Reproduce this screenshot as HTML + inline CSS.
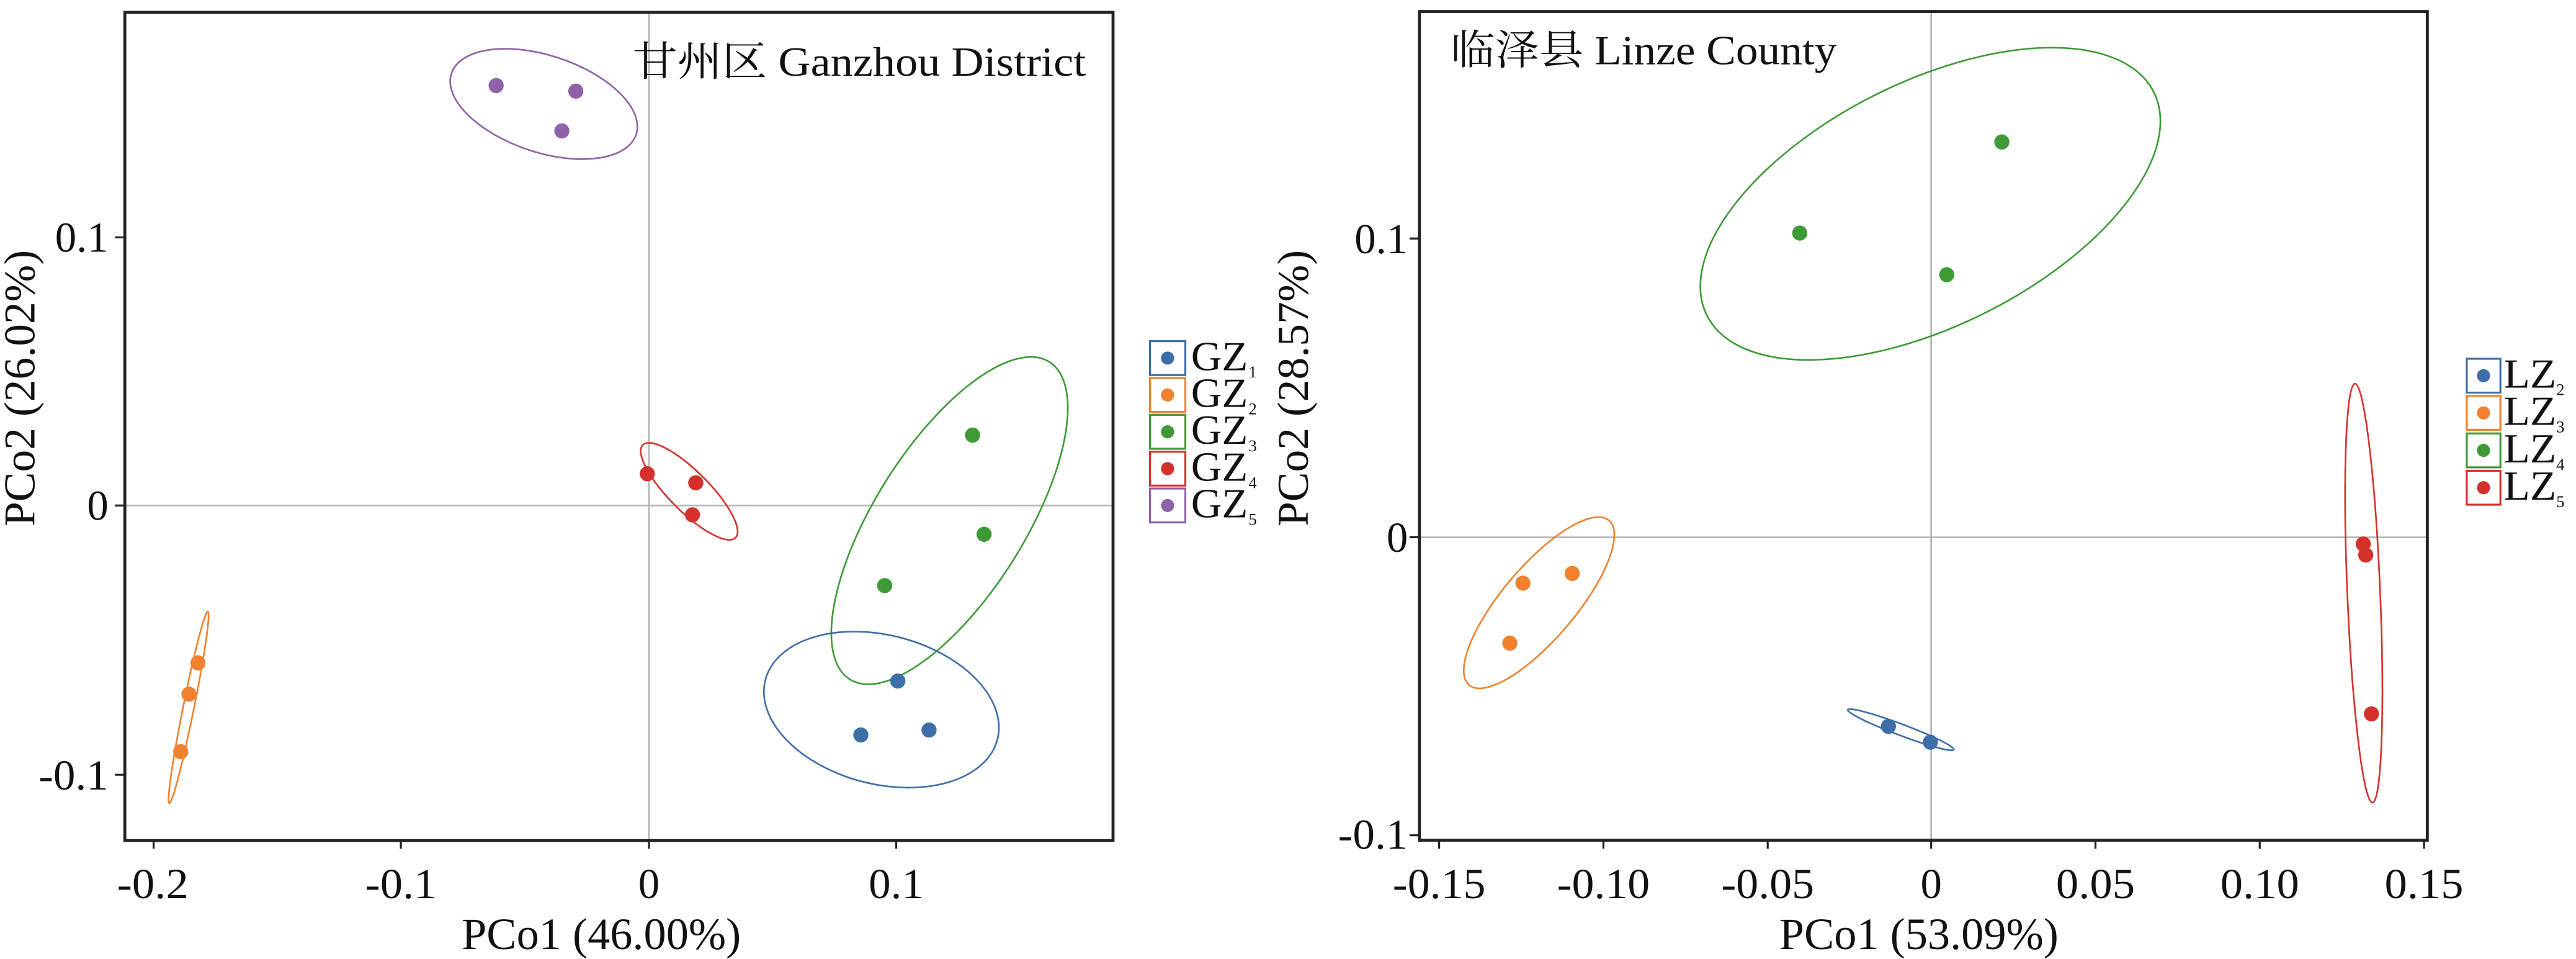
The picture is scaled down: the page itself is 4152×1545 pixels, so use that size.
<!DOCTYPE html>
<html><head><meta charset="utf-8"><style>
html,body{margin:0;padding:0;background:#fff}
svg{display:block}
text{font-family:"Liberation Serif","Noto Serif CJK SC",serif;fill:#111}
</style></head><body>
<svg width="4152" height="1545" viewBox="0 0 1568 583" preserveAspectRatio="none" xmlns="http://www.w3.org/2000/svg">
<!-- LEFT PANEL -->
<g>
<line x1="395" y1="8" x2="395" y2="511" stroke="#b5b5b5" stroke-width="1"/>
<line x1="76" y1="307.3" x2="677" y2="307.3" stroke="#b5b5b5" stroke-width="1"/>
<g fill="none" stroke-width="1">
<ellipse cx="331" cy="63.2" rx="59.2" ry="29.4" transform="rotate(18.3 331 63.2)" stroke="#8e62a8"/>
<ellipse cx="419.5" cy="298.7" rx="39.9" ry="12.1" transform="rotate(45 419.5 298.7)" stroke="#d5312c"/>
<ellipse cx="578" cy="316.5" rx="114" ry="45.6" transform="rotate(-57.8 578 316.5)" stroke="#3e9a37"/>
<ellipse cx="536.5" cy="431.4" rx="72.9" ry="45.3" transform="rotate(14.3 536.5 431.4)" stroke="#3d6ea8"/>
<ellipse cx="114.8" cy="430" rx="59.4" ry="3.3" transform="rotate(-78.6 114.8 430)" stroke="#f0812e"/>
</g>
<g>
<circle cx="302" cy="52" r="4.6" fill="#8e62a8"/><circle cx="350.5" cy="55.4" r="4.6" fill="#8e62a8"/><circle cx="342" cy="79.6" r="4.6" fill="#8e62a8"/>
<circle cx="394" cy="288" r="4.6" fill="#d5312c"/><circle cx="423.5" cy="293.5" r="4.6" fill="#d5312c"/><circle cx="421.5" cy="313" r="4.6" fill="#d5312c"/>
<circle cx="592" cy="264.5" r="4.6" fill="#3e9a37"/><circle cx="599" cy="324.8" r="4.6" fill="#3e9a37"/><circle cx="538.5" cy="356" r="4.6" fill="#3e9a37"/>
<circle cx="546.5" cy="414" r="4.6" fill="#3d6ea8"/><circle cx="524" cy="446.8" r="4.6" fill="#3d6ea8"/><circle cx="565.5" cy="443.8" r="4.6" fill="#3d6ea8"/>
<circle cx="120.5" cy="403" r="4.6" fill="#f0812e"/><circle cx="115" cy="422" r="4.6" fill="#f0812e"/><circle cx="110" cy="457" r="4.6" fill="#f0812e"/>
</g>
<rect x="76" y="7.5" width="601.5" height="503.5" fill="none" stroke="#222" stroke-width="1.8"/>
<g stroke="#222" stroke-width="1.2">
<line x1="93.5" y1="511" x2="93.5" y2="516"/><line x1="244" y1="511" x2="244" y2="516"/><line x1="395" y1="511" x2="395" y2="516"/><line x1="545.5" y1="511" x2="545.5" y2="516"/>
<line x1="70" y1="144.3" x2="76" y2="144.3"/><line x1="70" y1="307.3" x2="76" y2="307.3"/><line x1="70" y1="471" x2="76" y2="471"/>
</g>
<g font-size="26" text-anchor="middle" lengthAdjust="spacingAndGlyphs">
<text x="93" y="546" textLength="43.5" lengthAdjust="spacingAndGlyphs">-0.2</text><text x="244" y="546" textLength="43.5" lengthAdjust="spacingAndGlyphs">-0.1</text><text x="395" y="546">0</text><text x="545.5" y="546" textLength="33.5" lengthAdjust="spacingAndGlyphs">0.1</text>
</g>
<g font-size="26" text-anchor="end">
<text x="66" y="153" textLength="32.5" lengthAdjust="spacingAndGlyphs">0.1</text><text x="66" y="316">0</text><text x="66" y="480" textLength="42.5" lengthAdjust="spacingAndGlyphs">-0.1</text>
</g>
<text x="366" y="577" font-size="27" text-anchor="middle" textLength="170" lengthAdjust="spacingAndGlyphs">PCo1 (46.00%)</text>
<text transform="translate(21 236) rotate(-90)" font-size="27" text-anchor="middle" textLength="168" lengthAdjust="spacingAndGlyphs">PCo2 (26.02%)</text>
<text x="385" y="46" font-size="25" textLength="276" lengthAdjust="spacingAndGlyphs">甘州区 Ganzhou District</text>
<g>
<rect x="700" y="207.4" width="21.5" height="20.6" fill="#fff" stroke="#3d6ea8" stroke-width="1.2"/><circle cx="710.7" cy="217.7" r="4" fill="#3d6ea8"/>
<rect x="700" y="229.8" width="21.5" height="20.6" fill="#fff" stroke="#f0812e" stroke-width="1.2"/><circle cx="710.7" cy="240.1" r="4" fill="#f0812e"/>
<rect x="700" y="252.2" width="21.5" height="20.6" fill="#fff" stroke="#3e9a37" stroke-width="1.2"/><circle cx="710.7" cy="262.5" r="4" fill="#3e9a37"/>
<rect x="700" y="274.6" width="21.5" height="20.6" fill="#fff" stroke="#d5312c" stroke-width="1.2"/><circle cx="710.7" cy="284.9" r="4" fill="#d5312c"/>
<rect x="700" y="297" width="21.5" height="20.6" fill="#fff" stroke="#8e62a8" stroke-width="1.2"/><circle cx="710.7" cy="307.3" r="4" fill="#8e62a8"/>
</g>
<g font-size="25">
<text x="725" y="225" textLength="34.6" lengthAdjust="spacingAndGlyphs">GZ</text><text x="760" y="229.5" font-size="10">1</text>
<text x="725" y="247.4" textLength="34.6" lengthAdjust="spacingAndGlyphs">GZ</text><text x="760" y="251.9" font-size="10">2</text>
<text x="725" y="269.8" textLength="34.6" lengthAdjust="spacingAndGlyphs">GZ</text><text x="760" y="274.3" font-size="10">3</text>
<text x="725" y="292.2" textLength="34.6" lengthAdjust="spacingAndGlyphs">GZ</text><text x="760" y="296.7" font-size="10">4</text>
<text x="725" y="314.6" textLength="34.6" lengthAdjust="spacingAndGlyphs">GZ</text><text x="760" y="319.1" font-size="10">5</text>
</g>
</g>
<!-- RIGHT PANEL -->
<g>
<line x1="1175.5" y1="7" x2="1175.5" y2="511" stroke="#b5b5b5" stroke-width="1"/>
<line x1="864" y1="326.6" x2="1477" y2="326.6" stroke="#b5b5b5" stroke-width="1"/>
<g fill="none" stroke-width="1">
<ellipse cx="1175" cy="123.9" rx="152" ry="74.2" transform="rotate(-26.5 1175 123.9)" stroke="#3e9a37"/>
<ellipse cx="936.8" cy="366.4" rx="65.7" ry="22.2" transform="rotate(-49.6 936.8 366.4)" stroke="#f0812e"/>
<ellipse cx="1157" cy="443.6" rx="34.5" ry="3.4" transform="rotate(20.6 1157 443.6)" stroke="#3d6ea8"/>
<ellipse cx="1438.8" cy="360.6" rx="127.5" ry="10" transform="rotate(87.6 1438.8 360.6)" stroke="#d5312c"/>
</g>
<g>
<circle cx="1218.5" cy="86.3" r="4.6" fill="#3e9a37"/><circle cx="1095.5" cy="141.7" r="4.6" fill="#3e9a37"/><circle cx="1185" cy="167" r="4.6" fill="#3e9a37"/>
<circle cx="927" cy="354.5" r="4.6" fill="#f0812e"/><circle cx="957" cy="348.6" r="4.6" fill="#f0812e"/><circle cx="919" cy="391" r="4.6" fill="#f0812e"/>
<circle cx="1149.5" cy="441.6" r="4.6" fill="#3d6ea8"/><circle cx="1175" cy="451.2" r="4.6" fill="#3d6ea8"/>
<circle cx="1438.5" cy="330.7" r="4.6" fill="#d5312c"/><circle cx="1440" cy="337.4" r="4.6" fill="#d5312c"/><circle cx="1443.5" cy="434" r="4.6" fill="#d5312c"/>
</g>
<rect x="864" y="7" width="613.5" height="503.8" fill="none" stroke="#222" stroke-width="1.8"/>
<g stroke="#222" stroke-width="1.2">
<line x1="876" y1="511" x2="876" y2="516"/><line x1="976" y1="511" x2="976" y2="516"/><line x1="1076" y1="511" x2="1076" y2="516"/><line x1="1175.5" y1="511" x2="1175.5" y2="516"/><line x1="1275.5" y1="511" x2="1275.5" y2="516"/><line x1="1375.5" y1="511" x2="1375.5" y2="516"/><line x1="1475.5" y1="511" x2="1475.5" y2="516"/>
<line x1="858" y1="145" x2="864" y2="145"/><line x1="858" y1="326.6" x2="864" y2="326.6"/><line x1="858" y1="507.8" x2="864" y2="507.8"/>
</g>
<g font-size="26" text-anchor="middle">
<text x="876" y="546" textLength="56.5" lengthAdjust="spacingAndGlyphs">-0.15</text><text x="976" y="546" textLength="56.5" lengthAdjust="spacingAndGlyphs">-0.10</text><text x="1076" y="546" textLength="56.5" lengthAdjust="spacingAndGlyphs">-0.05</text><text x="1175.5" y="546">0</text><text x="1275.5" y="546" textLength="48" lengthAdjust="spacingAndGlyphs">0.05</text><text x="1375.5" y="546" textLength="48" lengthAdjust="spacingAndGlyphs">0.10</text><text x="1475.5" y="546" textLength="48" lengthAdjust="spacingAndGlyphs">0.15</text>
</g>
<g font-size="26" text-anchor="end">
<text x="857" y="154" textLength="32.5" lengthAdjust="spacingAndGlyphs">0.1</text><text x="857" y="335.5">0</text><text x="857" y="516" textLength="42.5" lengthAdjust="spacingAndGlyphs">-0.1</text>
</g>
<text x="1168" y="577" font-size="27" text-anchor="middle" textLength="170" lengthAdjust="spacingAndGlyphs">PCo1 (53.09%)</text>
<text transform="translate(796 236) rotate(-90)" font-size="27" text-anchor="middle" textLength="168" lengthAdjust="spacingAndGlyphs">PCo2 (28.57%)</text>
<text x="883" y="39" font-size="25" textLength="235" lengthAdjust="spacingAndGlyphs">临泽县 Linze County</text>
<g>
<rect x="1501.5" y="218.1" width="20.5" height="20.6" fill="#fff" stroke="#3d6ea8" stroke-width="1.2"/><circle cx="1511.7" cy="228.4" r="4" fill="#3d6ea8"/>
<rect x="1501.5" y="240.7" width="20.5" height="20.6" fill="#fff" stroke="#f0812e" stroke-width="1.2"/><circle cx="1511.7" cy="251" r="4" fill="#f0812e"/>
<rect x="1501.5" y="263.5" width="20.5" height="20.6" fill="#fff" stroke="#3e9a37" stroke-width="1.2"/><circle cx="1511.7" cy="273.8" r="4" fill="#3e9a37"/>
<rect x="1501.5" y="286.2" width="20.5" height="20.6" fill="#fff" stroke="#d5312c" stroke-width="1.2"/><circle cx="1511.7" cy="296.5" r="4" fill="#d5312c"/>
</g>
<g font-size="25">
<text x="1524" y="235.7" textLength="32" lengthAdjust="spacingAndGlyphs">LZ</text><text x="1556" y="240.2" font-size="10">2</text>
<text x="1524" y="258.3" textLength="32" lengthAdjust="spacingAndGlyphs">LZ</text><text x="1556" y="262.8" font-size="10">3</text>
<text x="1524" y="281.1" textLength="32" lengthAdjust="spacingAndGlyphs">LZ</text><text x="1556" y="285.6" font-size="10">4</text>
<text x="1524" y="303.8" textLength="32" lengthAdjust="spacingAndGlyphs">LZ</text><text x="1556" y="308.3" font-size="10">5</text>
</g>
</g>
</svg>
</body></html>
